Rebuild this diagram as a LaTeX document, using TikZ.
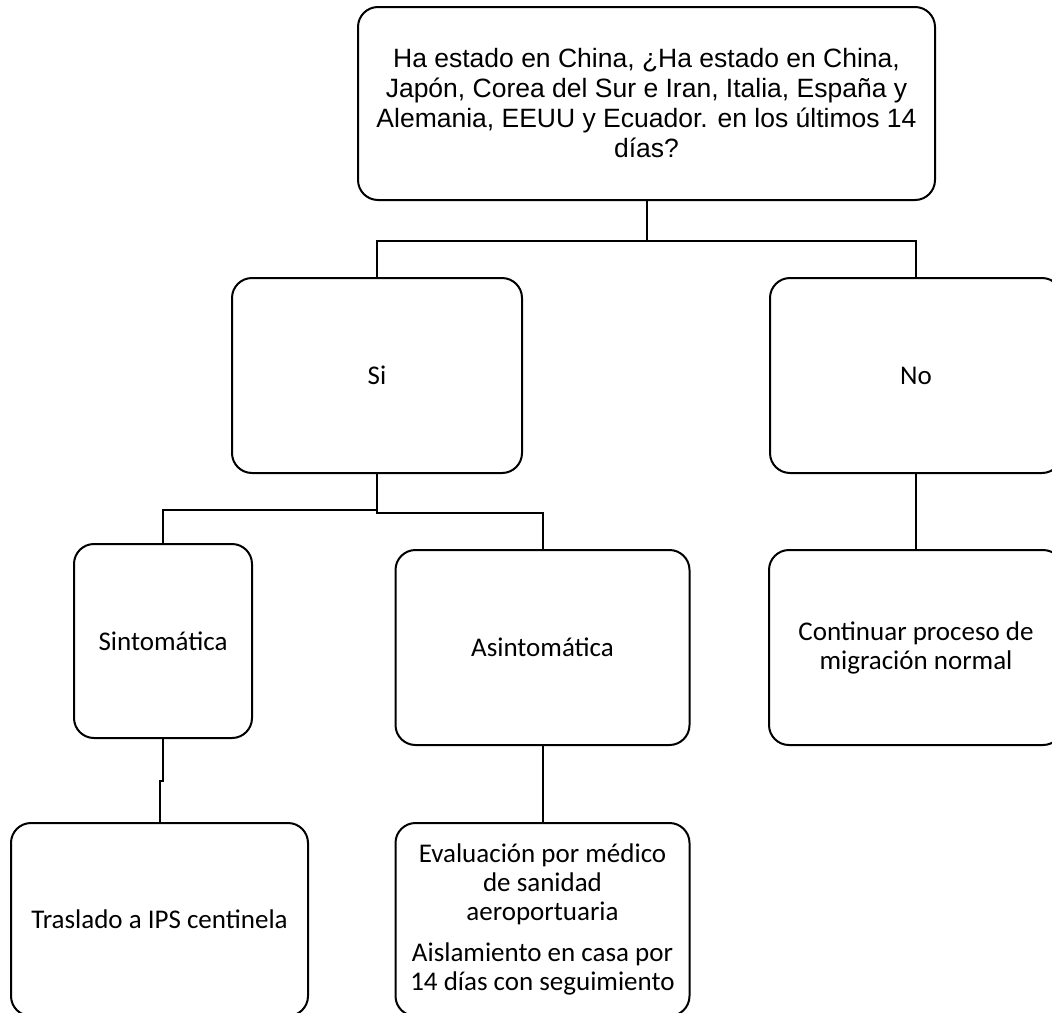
\documentclass[tikz,border=0pt]{standalone}
\usepackage{fontspec}
\setmainfont{Carlito}
\newfontfamily\arialf{Liberation Sans}
\begin{document}
\begin{tikzpicture}[x=1pt,y=-1pt,
  box/.style={draw, line width=2pt, rounded corners=20pt, inner sep=0pt, align=center},
  cal/.style={font=\fontsize{27}{29}\selectfont},
  conn/.style={line width=2pt}]
\useasboundingbox (0,0) rectangle (1052,1012);
\clip (0,0) rectangle (1052,1012);
\node[box, minimum width=577pt, minimum height=193pt, font=\arialf\fontsize{26.5}{28.5}\selectfont] (q) at (646.5,103.5)
  {Ha estado en China, ¿Ha estado en China,\\[1.5pt] Japón, Corea del Sur e Iran, Italia, España y\\[1.5pt] Alemania, EEUU y Ecuador. en los últimos 14\\[1.5pt] días?};
\node[box, cal, minimum width=290pt, minimum height=195pt] (si) at (377,375.5) {Si};
\node[box, cal, minimum width=292pt, minimum height=195pt] (no) at (916,375.5) {No};
\node[box, cal, minimum width=178pt, minimum height=194pt] (sint) at (163,641) {Sintomática};
\node[box, cal, minimum width=294pt, minimum height=195pt] (asint) at (542.5,647.5) {Asintomática};
\node[box, cal, minimum width=294pt, minimum height=195pt] (cont) at (916,647.5) {Continuar proceso de\\ migración normal};
\node[box, cal, minimum width=297pt, minimum height=193pt] (tras) at (159.5,919.5) {Traslado a IPS centinela};
\node[box, cal, minimum width=294pt, minimum height=193pt] (eval) at (542.5,919.5)
  {Evaluación por médico\\ de sanidad\\ aeroportuaria\\[12pt] Aislamiento en casa por\\ 14 días con seguimiento};
\draw[conn] (q.south) -- ++(0,40) -| (si.north);
\draw[conn] (q.south) -- ++(0,40) -| (no.north);
\draw[conn] (si.south) -- ++(0,36) -| (sint.north);
\draw[conn] (si.south) -- ++(0,39) -| (asint.north);
\draw[conn] (sint.south) -- ++(0,42) -| (tras.north);
\draw[conn] (asint.south) -- (eval.north);
\draw[conn] (no.south) -- (cont.north);
\end{tikzpicture}
\end{document}
